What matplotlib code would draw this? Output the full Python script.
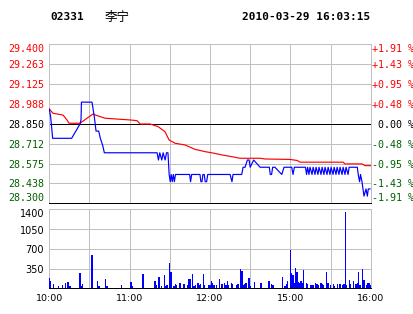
import numpy as np
import matplotlib.pyplot as plt
from matplotlib.transforms import blended_transform_factory, offset_copy

# prev close and price scale
prev_close = 28.85
price_ticks = [29.400, 29.263, 29.125, 28.988, 28.850, 28.712, 28.575, 28.438, 28.300]
pct_labels = ["+1.91 %", "+1.43 %", "+0.95 %", "+0.48 %", " 0.00 %",
              "-0.48 %", "-0.95 %", "-1.43 %", "-1.91 %"]

# minutes from 10:00 (0..240), price line
blue_t = [0, 1, 2.5, 16.7, 23.0, 23.7, 24.0, 31.9, 33.6, 34.9, 36.9, 38.1, 39.9, 41.1,
          80.5, 81.5, 82.5, 84, 85, 86.5, 87.5, 88.6, 89.5, 90.3, 91.0, 91.8, 92.6, 93.4, 94.2,
          104.8, 105.5, 106.3, 112.5, 113.2, 114.0, 114.7, 115.7, 116.4, 117.5, 118.3,
          135.0, 136.4, 137.2, 143.7, 144.7, 146.2, 147.9, 149.2, 150.0, 152.6, 157.4,
          164.3, 165.0, 166.0, 166.8, 168.5, 173.6, 175.3, 181.0, 182.0, 183.0, 191.3,
          192.1, 192.9, 193.9, 194.7, 196.2, 197.0, 198.4, 199.2, 200.6, 201.4, 202.9, 203.7,
          205.1, 205.9, 207.4, 208.2, 209.6, 210.4, 211.9, 212.7, 214.1, 214.9, 216.3, 217.1,
          218.6, 219.4, 220.8, 221.6, 223.1, 223.9, 230.0, 230.7, 231.7, 232.4, 233.5,
          235.0, 236.5, 237.5, 238.2, 239.5]
blue_p = [28.95, 28.90, 28.75, 28.75, 28.85, 28.88, 29.00, 29.00, 28.90, 28.80, 28.80, 28.75, 28.70, 28.65,
          28.65, 28.60, 28.65, 28.60, 28.65, 28.60, 28.65, 28.65, 28.50, 28.45, 28.50, 28.45, 28.50, 28.45, 28.50,
          28.50, 28.45, 28.50, 28.50, 28.45, 28.45, 28.50, 28.50, 28.45, 28.45, 28.50,
          28.50, 28.45, 28.50, 28.50, 28.55, 28.55, 28.60, 28.60, 28.55, 28.60, 28.55,
          28.55, 28.50, 28.50, 28.55, 28.55, 28.50, 28.55, 28.55, 28.50, 28.55, 28.55,
          28.50, 28.55, 28.50, 28.55, 28.50, 28.55, 28.50, 28.55, 28.50, 28.55, 28.50, 28.55,
          28.50, 28.55, 28.50, 28.55, 28.50, 28.55, 28.50, 28.55, 28.50, 28.55, 28.50, 28.55,
          28.50, 28.55, 28.50, 28.55, 28.50, 28.55, 28.55, 28.50, 28.45, 28.50, 28.45,
          28.35, 28.40, 28.35, 28.40, 28.40]

# average price line
avg_t = [0, 2.8, 10.2, 13.2, 14.7, 22.9, 32.6, 35.6, 41.6, 49.1, 60.3, 65.5, 67.8, 75.2,
         81.2, 86.4, 89.4, 93.9, 101.3, 108.8, 116.3, 123.0, 129.0, 136.4, 142.4, 157.4,
         161.1, 179.8, 185.0, 187.3, 219.4, 220.8, 233.5, 235.7, 240]
avg_p = [28.953, 28.923, 28.911, 28.877, 28.854, 28.854, 28.918, 28.907, 28.889, 28.884,
         28.877, 28.872, 28.849, 28.849, 28.831, 28.796, 28.739, 28.716, 28.704, 28.674,
         28.658, 28.647, 28.635, 28.623, 28.612, 28.612, 28.607, 28.604, 28.597, 28.585,
         28.585, 28.573, 28.573, 28.561, 28.561]

# volume per minute
vol_t = [0, 1, 3, 7, 10, 12, 14, 15, 16, 23, 24, 25, 32, 36, 37, 42, 43, 54, 61, 62, 70,
         79, 80, 82, 84, 86, 87, 88, 90, 91, 93, 94, 95, 97, 98, 100, 101, 103, 104, 105,
         107, 108, 109, 111, 112, 113, 115, 116,
         119, 120, 121, 122, 123, 125, 127, 129, 131, 132, 133, 134, 136, 137, 140, 141,
         143, 144, 145, 146, 147, 149, 150, 153, 158, 164, 166, 167, 174, 176, 177, 178,
         180, 181, 182, 183, 184, 185, 186, 187, 188, 189, 190, 192, 193, 195, 196, 197,
         199, 200, 201, 203, 204, 205, 207, 208, 210, 212, 213, 215, 217, 219, 220, 221,
         222, 224, 225, 227, 229, 230, 231, 232, 234, 235, 237, 238, 239, 240]
vol_v = [188, 130, 76, 46, 58, 88, 106, 46, 46, 271, 46, 70, 590, 130, 46, 165, 46, 58, 118, 46, 253,
         130, 58, 206, 46, 235, 46, 58, 454, 294, 46, 76, 58, 88, 100, 70, 82, 58, 165, 165,
         253, 46, 58, 94, 58, 70, 247, 58,
         58, 58, 130, 88, 58, 58, 159, 70, 88, 58, 130, 58, 88, 70, 58, 70,
         342, 306, 58, 70, 88, 188, 46, 106, 88, 130, 70, 58, 206, 46, 70, 130,
         678, 265, 235, 100, 365, 294, 106, 88, 130, 88, 324, 100, 70, 58, 58, 58,
         88, 70, 58, 88, 70, 58, 283, 88, 58, 70, 46, 82, 70, 58, 70, 1345,
         58, 147, 70, 130, 70, 88, 283, 58, 347, 147, 58, 88, 88, 58]

vol_ticks = [350, 700, 1050, 1400]
time_ticks = [0, 60, 120, 180, 240]
time_labels = ["10:00", "11:00", "12:00", "15:00", "16:00"]

RED = "#ff0000"
GREEN = "#006000"
GRID = "#c0c0c0"
MONO = "DejaVu Sans Mono"
PX = 0.72  # one pixel in points

fig = plt.figure(figsize=(4.14, 3.14), dpi=100)
fig.patch.set_facecolor("white")

# ---- header
fig.text(50 / 414, 1 - 17 / 314, "02331", family=MONO, weight="bold",
         fontsize=8, va="center", ha="left")
fig.text(105 / 414, 1 - 17 / 314, "李宁", family=["Noto Sans CJK SC", "DejaVu Sans"],
         fontsize=9, va="center", ha="left")
fig.text(370 / 414, 1 - 17 / 314, "2010-03-29 16:03:15", family=MONO,
         weight="bold", fontsize=8, va="center", ha="right")


def label_va(i, n):
    # first label sits under its line, last one above, the rest a bit low
    if i == 0:
        return "top", 0
    if i == n - 1:
        return "bottom", 0
    return "center", -1


def style_panel(a):
    a.grid(True, color=GRID, lw=PX, antialiased=False)
    a.set_axisbelow(True)
    for s in ["top", "left", "right"]:
        a.spines[s].set_color(GRID)
    a.spines["bottom"].set_color("black")
    for s in a.spines.values():
        s.set_linewidth(PX)
        s.set_antialiased(False)


# ---- price panel
ax = fig.add_axes([49.3 / 414, 1 - 203.4 / 314, 321.4 / 414, 159.1 / 314])
ax.set_xlim(0, 240)
ax.set_ylim(28.300, 29.400)
ax.set_xticks(np.arange(0, 241, 30))
ax.set_yticks(price_ticks)
ax.tick_params(length=0, labelbottom=False, labelleft=False)
style_panel(ax)
ax.axhline(prev_close, color="black", lw=PX, zorder=1.5, antialiased=False)

ax.plot(avg_t, avg_p, color=RED, lw=0.85, zorder=3)
ax.plot(blue_t, blue_p, color="#0000ff", lw=0.85, zorder=4)

trans = blended_transform_factory(ax.transAxes, ax.transData)
n = len(price_ticks)
for i, (v, lab) in enumerate(zip(price_ticks, pct_labels)):
    if abs(v - prev_close) < 1e-6:
        c = "black"
    elif v > prev_close:
        c = RED
    else:
        c = GREEN
    va, dy = label_va(i, n)
    tr = offset_copy(trans, fig=fig, x=0, y=dy * PX, units="points")
    ax.text(-0.016, v, "%.3f" % v, transform=tr, family=MONO, fontsize=7.2,
            color=c, va=va, ha="right", clip_on=False)
    ax.text(1.003, v, lab, transform=tr, family=MONO, fontsize=7.2,
            color=c, va=va, ha="left", clip_on=False)

# ---- volume panel
vax = fig.add_axes([49.3 / 414, 1 - 288.3 / 314, 321.4 / 414, 79.0 / 314])
vax.set_xlim(0, 240)
vax.set_ylim(0, 1400)
vax.set_xticks(np.arange(0, 241, 30))
vax.set_xticklabels([time_labels[time_ticks.index(t)] if t in time_ticks else ""
                     for t in range(0, 241, 30)], fontsize=6.8)
vax.set_yticks([0] + vol_ticks)
vax.tick_params(length=0, labelleft=False)
vax.tick_params(axis="x", pad=4)
style_panel(vax)
vax.bar(vol_t, vol_v, width=1.0, color="#0000ff", align="center", zorder=3,
        antialiased=False)

vtrans = blended_transform_factory(vax.transAxes, vax.transData)
for v in vol_ticks:
    if v == 1400:
        va, dy = "top", 0
    else:
        va, dy = "center", -1.5
    tr = offset_copy(vtrans, fig=fig, x=0, y=dy * PX, units="points")
    vax.text(-0.016, v, str(v), transform=tr, fontsize=7, va=va, ha="right",
             clip_on=False)

plt.savefig("out.png", dpi=100)
